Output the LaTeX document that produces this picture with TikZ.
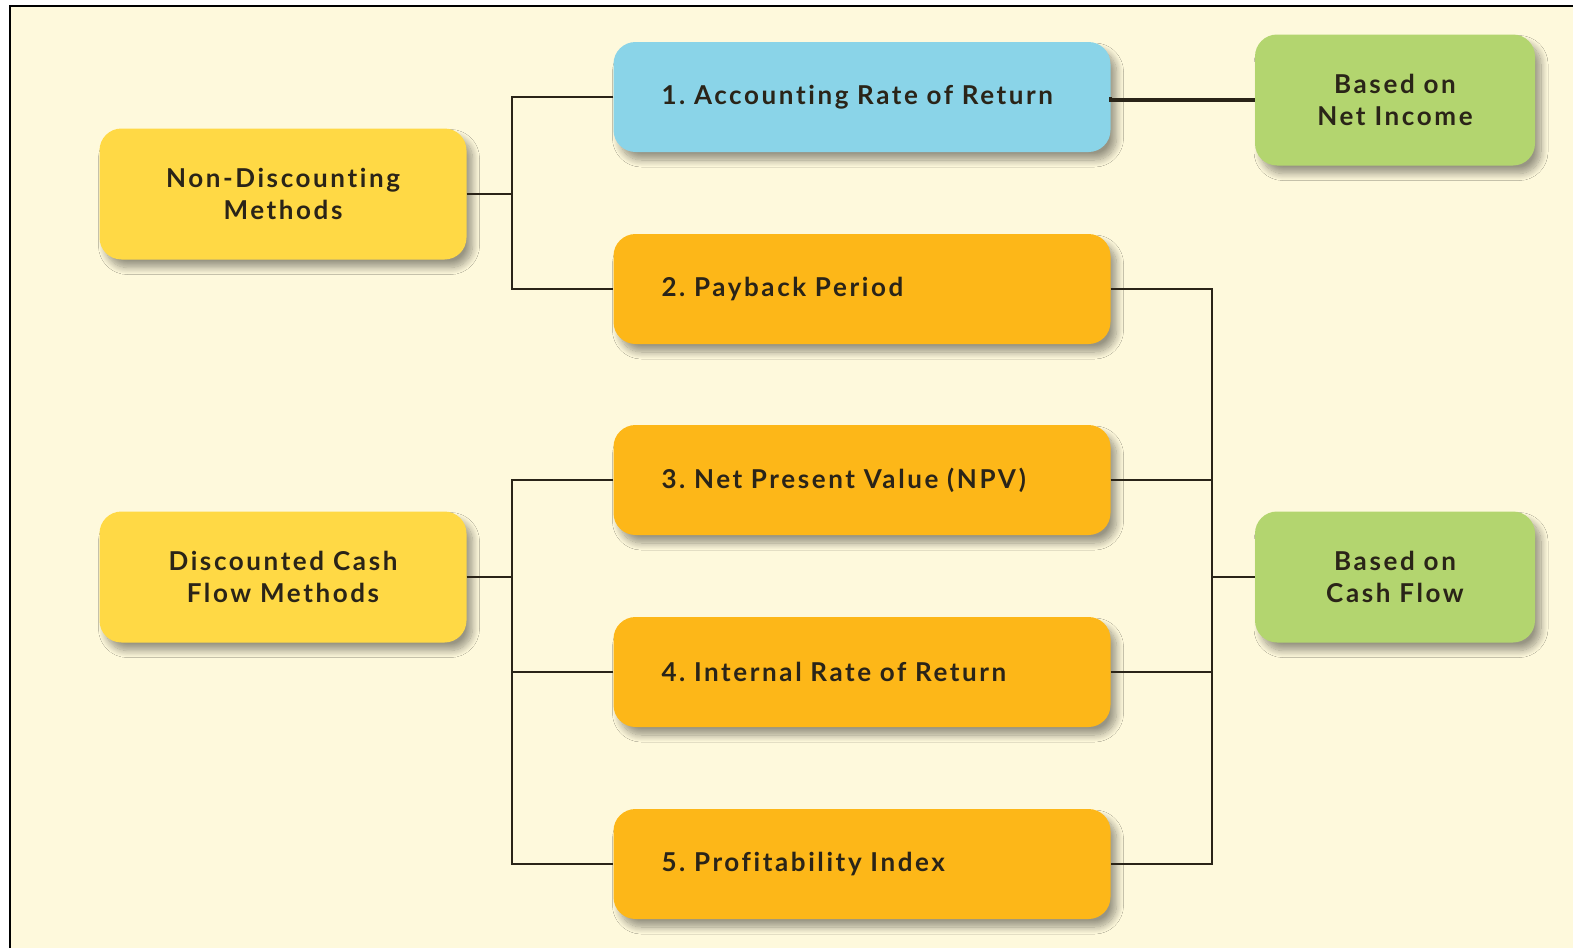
\documentclass[tikz,border=0pt]{standalone}
\usepackage{fontspec}
\setmainfont{Lato}[LetterSpace=10, Ligatures=NoCommon]
\usetikzlibrary{shadows.blur}
\definecolor{cream}{HTML}{FEF9DC}
\definecolor{boxyellow}{HTML}{FFD945}
\definecolor{boxorange}{HTML}{FDB718}
\definecolor{boxblue}{HTML}{8AD4E8}
\definecolor{boxgreen}{HTML}{B3D56F}
\definecolor{txt}{HTML}{2A2418}
\tikzset{
  x=1pt,y=-1pt,
  basebox/.style={rounded corners=22pt, draw=none, text=txt,
    font=\bfseries\fontsize{26}{32}\selectfont\frenchspacing,
    blur shadow={shadow xshift=6pt, shadow yshift=-8pt, shadow blur steps=12, shadow blur radius=7pt, shadow blur extra rounding=7pt, shadow opacity=40}},
  catbox/.style={basebox, fill=boxyellow, minimum width=367pt, minimum height=131pt, align=center, inner sep=0pt},
  methbox/.style={basebox, fill=boxorange, minimum height=110pt, text width=401pt, inner xsep=48pt, inner ysep=0pt, align=left},
  basisbox/.style={basebox, fill=boxgreen, minimum width=280pt, minimum height=131pt, align=center, inner sep=0pt},
  link/.style={draw=txt, line width=1.8pt},
  thicklink/.style={draw=txt, line width=3.5pt}
}
\begin{document}
\begin{tikzpicture}
\useasboundingbox (0,0) rectangle (1573,948);
\fill[white] (0,0) rectangle (1573,948);
\fill[cream] (10,6) rectangle (1573,948);
\draw[line width=1.5pt, black] (10,948) -- (10,6) -- (1573,6);

\node[catbox] (nd) at (283,194) {Non-Discounting\\Methods};
\node[catbox] (dc) at (283,577) {Discounted Cash\\Flow Methods};

\node[methbox, fill=boxblue] (m1) at (862,97) {1. Accounting Rate of Return};
\node[methbox] (m2) at (862,289) {2. Payback Period};
\node[methbox] (m3) at (862,480) {3. Net Present Value (NPV)};
\node[methbox] (m4) at (862,672) {4. Internal Rate of Return};
\node[methbox] (m5) at (862,864) {5. Profitability Index};

\node[basisbox] (ni) at (1395,100) {Based on\\Net Income};
\node[basisbox] (cf) at (1395,577) {Based on\\Cash Flow};

\coordinate (lj) at (512,0);
\coordinate (rj) at (1212,0);

\draw[link] (nd.east) -- (nd.east -| lj);
\draw[link] (m1.west) -- (m1.west -| lj) -- (m2.west -| lj) -- (m2.west);
\draw[link] (dc.east) -- (dc.east -| lj);
\draw[link] (m3.west) -- (m3.west -| lj) -- (m5.west -| lj) -- (m5.west);
\draw[link] (m4.west) -- (m4.west -| lj);

\draw[thicklink] (m1.east) -- (m1.east |- ni.west) -- (ni.west);

\draw[link] (m2.east) -- (m2.east -| rj) -- (m5.east -| rj) -- (m5.east);
\draw[link] (m3.east) -- (m3.east -| rj);
\draw[link] (m4.east) -- (m4.east -| rj);
\draw[link] (cf.west) -- (cf.west -| rj);
\end{tikzpicture}
\end{document}
